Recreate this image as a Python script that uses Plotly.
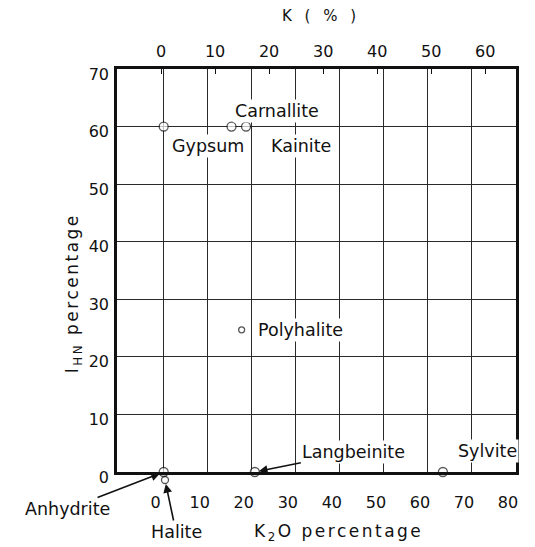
import plotly.graph_objects as go

# Values: K2O (%) on x, I_HN (%) on y.
MINERALS = ["Gypsum", "Carnallite", "Kainite", "Polyhalite",
            "Langbeinite", "Sylvite", "Anhydrite"]
K2O_PCT = [0, 15.4, 18.7, 17.7, 20.7, 63.4, 0]
IHN_PCT = [60, 60, 60, 24.7, 0, 0, 0]

# Halite is drawn just under the baseline, next to anhydrite
HALITE_K2O = [0.3]
HALITE_IHN = [-1.4]

K2O_TICKS = [0, 10, 20, 30, 40, 50, 60, 70, 80]
K_TICKS = [0, 10, 20, 30, 40, 50, 60]
IHN_TICKS = [0, 10, 20, 30, 40, 50, 60, 70]

FONT = "DejaVu Sans"
INK = "#111111"
STRIP = 0.0289  # thin band below the frame that holds the halite point

# label placement (pixels relative to the point) -- styling only
LABEL_STYLE = {
    "Gypsum": dict(xshift=44, yshift=-19),
    "Carnallite": dict(xshift=45, yshift=16),
    "Kainite": dict(xshift=55, yshift=-19),
    "Polyhalite": dict(xshift=14, yshift=0, xanchor="left"),
    "Sylvite": dict(xshift=45, yshift=21),
    "Langbeinite": dict(showarrow=True, ax=99, ay=-20),
    "Anhydrite": dict(showarrow=True, ax=-96, ay=37),
    "Halite": dict(showarrow=True, ax=11, ay=52),
}
MARKER_SIZE = {"Polyhalite": 6, "Halite": 7}


def _marker(names):
    return dict(
        size=[MARKER_SIZE.get(m, 9) for m in names],
        color="white",
        line=dict(color=INK, width=1.3),
    )


def _label(fig, name, x, y, xref="x", yref="y"):
    style = dict(showarrow=False, xanchor="center", yanchor="middle")
    style.update(LABEL_STYLE[name])
    if style.get("showarrow"):
        style.update(
            axref="pixel", ayref="pixel", arrowhead=2, arrowsize=1.1,
            arrowwidth=1.6, arrowcolor=INK, standoff=4,
        )
    fig.add_annotation(
        x=x, y=y, xref=xref, yref=yref, text=name,
        font=dict(family=FONT, size=17.5, color=INK),
        bgcolor="white", borderpad=1,
        **style,
    )


fig = go.Figure()
fig.add_trace(
    go.Scatter(
        x=K2O_PCT, y=IHN_PCT, mode="markers", marker=_marker(MINERALS),
        text=MINERALS,
        hovertemplate="%{text}<br>K2O %{x}%<br>I_HN %{y}%<extra></extra>",
        cliponaxis=False, showlegend=False,
    )
)
fig.add_trace(
    go.Scatter(
        x=HALITE_K2O, y=HALITE_IHN, mode="markers", marker=_marker(["Halite"]),
        xaxis="x3", yaxis="y3", text=["Halite"],
        hovertemplate="%{text}<extra></extra>",
        cliponaxis=False, showlegend=False,
    )
)
# empty trace so the top K (%) axis is drawn
fig.add_trace(go.Scatter(x=[], y=[], xaxis="x2", yaxis="y", showlegend=False))

for name, kx, iy in zip(MINERALS, K2O_PCT, IHN_PCT):
    _label(fig, name, kx, iy)
_label(fig, "Halite", HALITE_K2O[0], HALITE_IHN[0], xref="x3", yref="y3")

# axis titles as annotations (off-centre in the original)
title_font = dict(family=FONT, size=17, color=INK)
centred = dict(xref="paper", yref="paper", showarrow=False,
               xanchor="center", yanchor="middle")
fig.add_annotation(
    x=0.556, y=-0.116,
    text='<span style="letter-spacing:2.5px">K<sub>2</sub>O percentage</span>',
    font=title_font, **centred,
)
fig.add_annotation(
    x=-0.110, y=0.460, textangle=-90,
    text='<span style="letter-spacing:2.5px">I<sub>HN</sub> percentage</span>',
    font=title_font, **centred,
)
fig.add_annotation(
    x=0.511, y=1.128,
    text='<span style="letter-spacing:4px">K ( % )</span>',
    font=dict(family=FONT, size=15, color=INK), **centred,
)

axis_common = dict(
    showline=True, linecolor=INK, linewidth=2.5, mirror=True,
    zeroline=False, tickfont=dict(family=FONT, size=16, color=INK),
)
hidden = dict(visible=False, showgrid=False, zeroline=False)

# the page body has an 8px margin, so the figure is sized to fill the rest
fig.update_layout(
    width=527,
    height=539,
    margin=dict(l=109, r=19, t=61, b=63),
    paper_bgcolor="white",
    plot_bgcolor="white",
    showlegend=False,
    xaxis=dict(
        range=[-10.6, 80], tickvals=K2O_TICKS, ticks="", anchor="y",
        showgrid=True, gridcolor="#2a2a2a", gridwidth=1,
        ticklabelshift=-8, ticklabelstandoff=14,
        **axis_common,
    ),
    xaxis2=dict(
        overlaying="x", side="top", anchor="y",
        range=[-8.15, 65.7], tickvals=K_TICKS,
        ticks="inside", ticklen=5, tickcolor=INK, tickwidth=1,
        showgrid=False, showline=False, zeroline=False,
        ticklabelstandoff=8,
        tickfont=dict(family=FONT, size=16, color=INK),
    ),
    xaxis3=dict(matches="x", anchor="y3", **hidden),
    yaxis=dict(
        domain=[STRIP, 1], range=[0, 70], tickvals=IHN_TICKS, ticks="",
        showgrid=True, gridcolor="#2a2a2a", gridwidth=1,
        ticklabelshift=5, ticklabelstandoff=2,
        **axis_common,
    ),
    yaxis3=dict(domain=[0, STRIP], range=[-2.1, 0], anchor="x3", **hidden),
)

fig.write_html("out.html")
